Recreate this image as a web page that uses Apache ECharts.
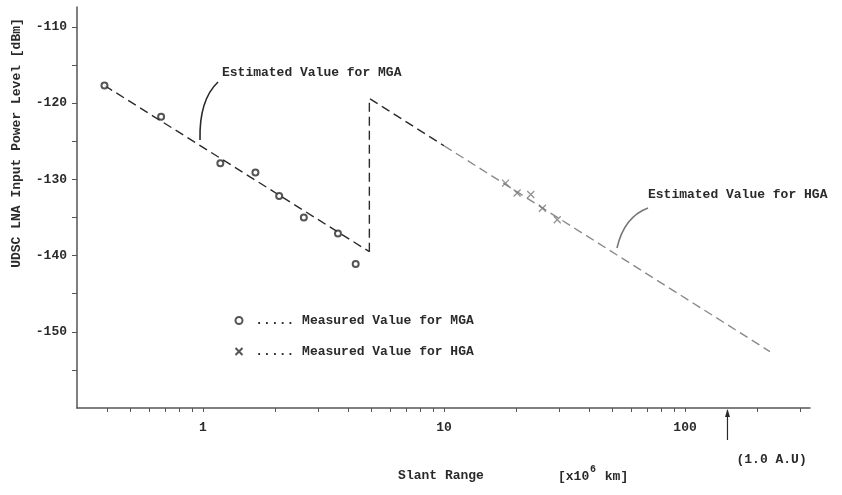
<!DOCTYPE html>
<html>
<head>
<meta charset="utf-8">
<script src="https://cdn.jsdelivr.net/npm/echarts@6/dist/echarts.min.js"></script>
<style>
html,body{margin:0;padding:0;background:#fff}
#main{width:842px;height:495px}
</style>
</head>
<body>
<div id="main"></div>
<script>
var FONT = '"Liberation Mono", "DejaVu Sans Mono", monospace';
var INK = '#2a2a2a';

// measured points, MGA  (slant range in 10^6 km, level in dBm)
var mgaRange = [0.39, 0.67, 1.18, 1.65, 2.07, 2.62, 3.63, 4.3];
var mgaLevel = [-117.7, -121.8, -127.9, -129.1, -132.2, -135.0, -137.1, -141.1];
// measured points, HGA
var hgaRange = [18.0, 20.1, 22.9, 25.6, 29.5];
var hgaLevel = [-130.5, -131.8, -132.0, -133.8, -135.3];
// estimated, MGA
var estMgaRange = [0.39, 4.9];
var estMgaLevel = [-117.7, -139.5];
// estimated, HGA (switch at 4.9, dark part up to 10, faded part after)
var estHgaRange = [4.9, 4.9, 10];
var estHgaLevel = [-139.5, -119.4, -125.6];
var estHgaFadeRange = [10, 225];
var estHgaFadeLevel = [-125.6, -152.6];

// axis ticks
var xLabelValues = [1, 10, 100];
var xTickValues = [0.4, 0.5, 0.6, 0.7, 0.8, 0.9, 1, 2, 3, 4, 5, 6, 7, 8, 9, 10,
	20, 30, 40, 50, 60, 70, 80, 90, 100, 200, 300];
var yLabelValues = [-150, -140, -130, -120, -110];
var yTickValues = [-155, -150, -145, -140, -135, -130, -125, -120, -115, -110];
var AU = 150; // 1.0 A.U. in 10^6 km

function zip(a, b) {
	return a.map(function(v, i) { return [v, b[i]]; });
}

var xMark = 'path://M0,0L10,10M10,0L0,10';

var myChart = echarts.init(document.getElementById('main'));

var option = {
	animation: false,
	grid: { left: 77, right: 32, top: 7, bottom: 87 },
	legend: {
		orient: 'vertical',
		left: 228,
		top: 309,
		itemGap: 18,
		itemWidth: 7,
		itemHeight: 7,
		formatter: function(n) { return ' ..... ' + n; },
		textStyle: { fontFamily: FONT, fontSize: 13, fontWeight: 'bold', color: INK },
		data: [
			{ name: 'Measured Value for MGA' },
			{ name: 'Measured Value for HGA', itemStyle: { borderColor: INK } }
		]
	},
	xAxis: {
		type: 'log',
		min: 0.3,
		max: 330,
		axisLine: { lineStyle: { color: '#555', width: 1.5 } },
		axisTick: { length: 4, customValues: xTickValues, lineStyle: { color: '#555' } },
		axisLabel: {
			customValues: xLabelValues,
			margin: 13,
			fontFamily: FONT, fontSize: 13, fontWeight: 'bold', color: INK
		},
		splitLine: { show: false }
	},
	yAxis: {
		type: 'value',
		min: -160,
		max: -107.4,
		axisLine: { show: true, lineStyle: { color: '#555', width: 1.5 } },
		axisTick: { show: true, length: 5, customValues: yTickValues, lineStyle: { color: '#555' } },
		axisLabel: {
			customValues: yLabelValues,
			margin: 10,
			fontFamily: FONT, fontSize: 13, fontWeight: 'bold', color: INK
		},
		splitLine: { show: false }
	},
	series: [
		{
			name: 'est MGA', type: 'line', data: zip(estMgaRange, estMgaLevel),
			symbol: 'none', z: 1,
			lineStyle: { color: INK, width: 1.4, type: [9, 5] }
		},
		{
			name: 'est HGA', type: 'line', data: zip(estHgaRange, estHgaLevel),
			symbol: 'none', z: 1,
			lineStyle: { color: INK, width: 1.4, type: [9, 5] }
		},
		{
			name: 'est HGA faded', type: 'line', data: zip(estHgaFadeRange, estHgaFadeLevel),
			symbol: 'none', z: 1,
			lineStyle: { color: '#8a8a8a', width: 1.4, type: [9, 5] }
		},
		{
			name: 'Measured Value for MGA', type: 'scatter', data: zip(mgaRange, mgaLevel),
			symbol: 'emptyCircle', symbolSize: 6, z: 3,
			itemStyle: { color: INK, borderColor: INK, borderWidth: 1.5 }
		},
		{
			name: 'Measured Value for HGA', type: 'scatter', data: zip(hgaRange, hgaLevel),
			symbol: xMark, symbolSize: 7, z: 3,
			itemStyle: { color: 'none', borderColor: '#777', borderWidth: 1.3 }
		}
	]
};
myChart.setOption(option);

// annotations
function txt(x, y, s, extra, rot) {
	var st = { text: s, fontFamily: FONT, fontSize: 13, fontWeight: 'bold', fill: INK,
		textVerticalAlign: 'middle' };
	for (var k in extra) st[k] = extra[k];
	return { type: 'text', x: x, y: y, rotation: rot || 0, style: st, silent: true };
}
var au = myChart.convertToPixel({ xAxisIndex: 0, yAxisIndex: 0 }, [AU, -160]);

myChart.setOption({
	graphic: [
		txt(17, 143, 'UDSC LNA Input Power Level [dBm]', { textAlign: 'center' }, Math.PI / 2),
		txt(222, 73, 'Estimated Value for MGA'),
		txt(648, 195, 'Estimated Value for HGA'),
		txt(441, 476, 'Slant Range', { textAlign: 'center' }),
		txt(558, 477, '[x10'),
		txt(590, 469, '6', { fontSize: 10 }),
		txt(597, 477, ' km]'),
		txt(au[0] + 9, 460, '(1.0 A.U)'),
		{
			type: 'bezierCurve', silent: true,
			shape: { x1: 218, y1: 82, cpx1: 199, cpy1: 100, x2: 200, y2: 140 },
			style: { stroke: INK, lineWidth: 1.6, fill: null }
		},
		{
			type: 'bezierCurve', silent: true,
			shape: { x1: 648, y1: 208, cpx1: 624, cpy1: 217, x2: 617, y2: 248 },
			style: { stroke: '#777', lineWidth: 1.6, fill: null }
		},
		{
			type: 'line', silent: true,
			shape: { x1: au[0], y1: au[1] + 2, x2: au[0], y2: au[1] + 32 },
			style: { stroke: INK, lineWidth: 1.2 }
		},
		{
			type: 'polygon', silent: true,
			shape: { points: [[au[0], au[1] + 1], [au[0] - 2.5, au[1] + 9], [au[0] + 2.5, au[1] + 9]] },
			style: { fill: INK }
		}
	]
});
</script>
</body>
</html>
